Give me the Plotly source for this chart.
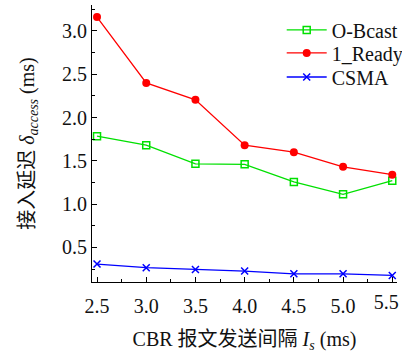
import plotly.graph_objects as go

x_vals = [2.5, 3.0, 3.5, 4.0, 4.5, 5.0, 5.5]
obcast = [1.785, 1.68, 1.465, 1.46, 1.256, 1.113, 1.27]
ready = [3.16, 2.40, 2.205, 1.68, 1.60, 1.43, 1.34]
csma = [0.307, 0.265, 0.245, 0.226, 0.195, 0.195, 0.176]
x_ticks = [2.5, 3.0, 3.5, 4.0, 4.5, 5.0, 5.5]
x_ticklabels = ["2.5", "3.0", "3.5", "4.0", "4.5", "5.0", "5.5"]
y_ticks = [0.5, 1.0, 1.5, 2.0, 2.5, 3.0]
y_ticklabels = ["0.5", "1.0", "1.5", "2.0", "2.5", "3.0"]

FONT = "Liberation Serif, Times New Roman, Noto Sans CJK SC, serif"
X_RANGE = [2.449, 5.548]

fig = go.Figure()
fig.add_trace(go.Scatter(x=x_vals, y=obcast, name="O-Bcast", mode="lines+markers",
                         legend="legend",
                         line=dict(color="#00e000", width=1.3),
                         marker=dict(symbol="square-open", size=7, color="#00e000",
                                     line=dict(width=1.5))))
fig.add_trace(go.Scatter(x=x_vals, y=ready, name="1_Ready", mode="lines+markers",
                         legend="legend2",
                         line=dict(color="#ff0000", width=1.3),
                         marker=dict(symbol="circle", size=8, color="#ff0000")))
fig.add_trace(go.Scatter(x=x_vals, y=csma, name="CSMA", mode="lines+markers",
                         legend="legend3",
                         line=dict(color="#0000ff", width=1.3),
                         marker=dict(symbol="x-thin-open", size=7, color="#0000ff",
                                     line=dict(width=1.5, color="#0000ff"))))
# empty helper trace so the overlay axis carrying the last tick label is drawn
fig.add_trace(go.Scatter(x=[], y=[], xaxis="x2", yaxis="y", showlegend=False,
                         hoverinfo="skip"))

leg_common = dict(x=0.622, xanchor="left", yanchor="middle",
                  bgcolor="rgba(0,0,0,0)", font=dict(size=20, family=FONT),
                  itemwidth=40)

fig.update_layout(
    width=402, height=353,
    margin=dict(l=92, r=5, t=5, b=71, autoexpand=False),
    paper_bgcolor="white", plot_bgcolor="white",
    font=dict(family=FONT, size=20, color="#111111"),
    showlegend=True,
    legend=dict(y=0.910, **leg_common),
    legend2=dict(y=0.827, **leg_common),
    legend3=dict(y=0.740, **leg_common),
    xaxis=dict(range=X_RANGE, tickvals=x_ticks[:-1], ticktext=x_ticklabels[:-1],
               showgrid=False, zeroline=False, showline=True, linecolor="black",
               linewidth=1, ticks="inside", ticklen=5, tickcolor="black",
               minor=dict(dtick=0.25, ticks="inside", ticklen=3, tickcolor="black"),
               tickfont=dict(size=20, family=FONT), ticklabelstandoff=6,
               ticklabeloverflow="allow",
               title=dict(text="CBR 报文发送间隔 <i>I<sub>s</sub></i> (ms)",
                          font=dict(size=20, family=FONT), standoff=20)),
    xaxis2=dict(range=X_RANGE, overlaying="x", anchor="y", side="bottom",
                tickvals=x_ticks[-1:], ticktext=x_ticklabels[-1:],
                showgrid=False, zeroline=False, showline=False,
                ticks="inside", ticklen=5, tickcolor="black",
                tickfont=dict(size=20, family=FONT), ticklabelstandoff=6,
                ticklabelshift=-6, ticklabeloverflow="allow"),
    yaxis=dict(range=[0.1, 3.3], tickvals=y_ticks, ticktext=y_ticklabels,
               showgrid=False, zeroline=False, showline=True, linecolor="black",
               linewidth=1, ticks="inside", ticklen=5, tickcolor="black",
               minor=dict(dtick=0.25, ticks="inside", ticklen=3, tickcolor="black"),
               tickfont=dict(size=20, family=FONT), ticklabeloverflow="allow",
               title=dict(text="接入延迟 <i>δ<sub>access</sub></i> (ms)",
                          font=dict(size=20, family=FONT), standoff=22)),
)

fig.write_html("out.html")
